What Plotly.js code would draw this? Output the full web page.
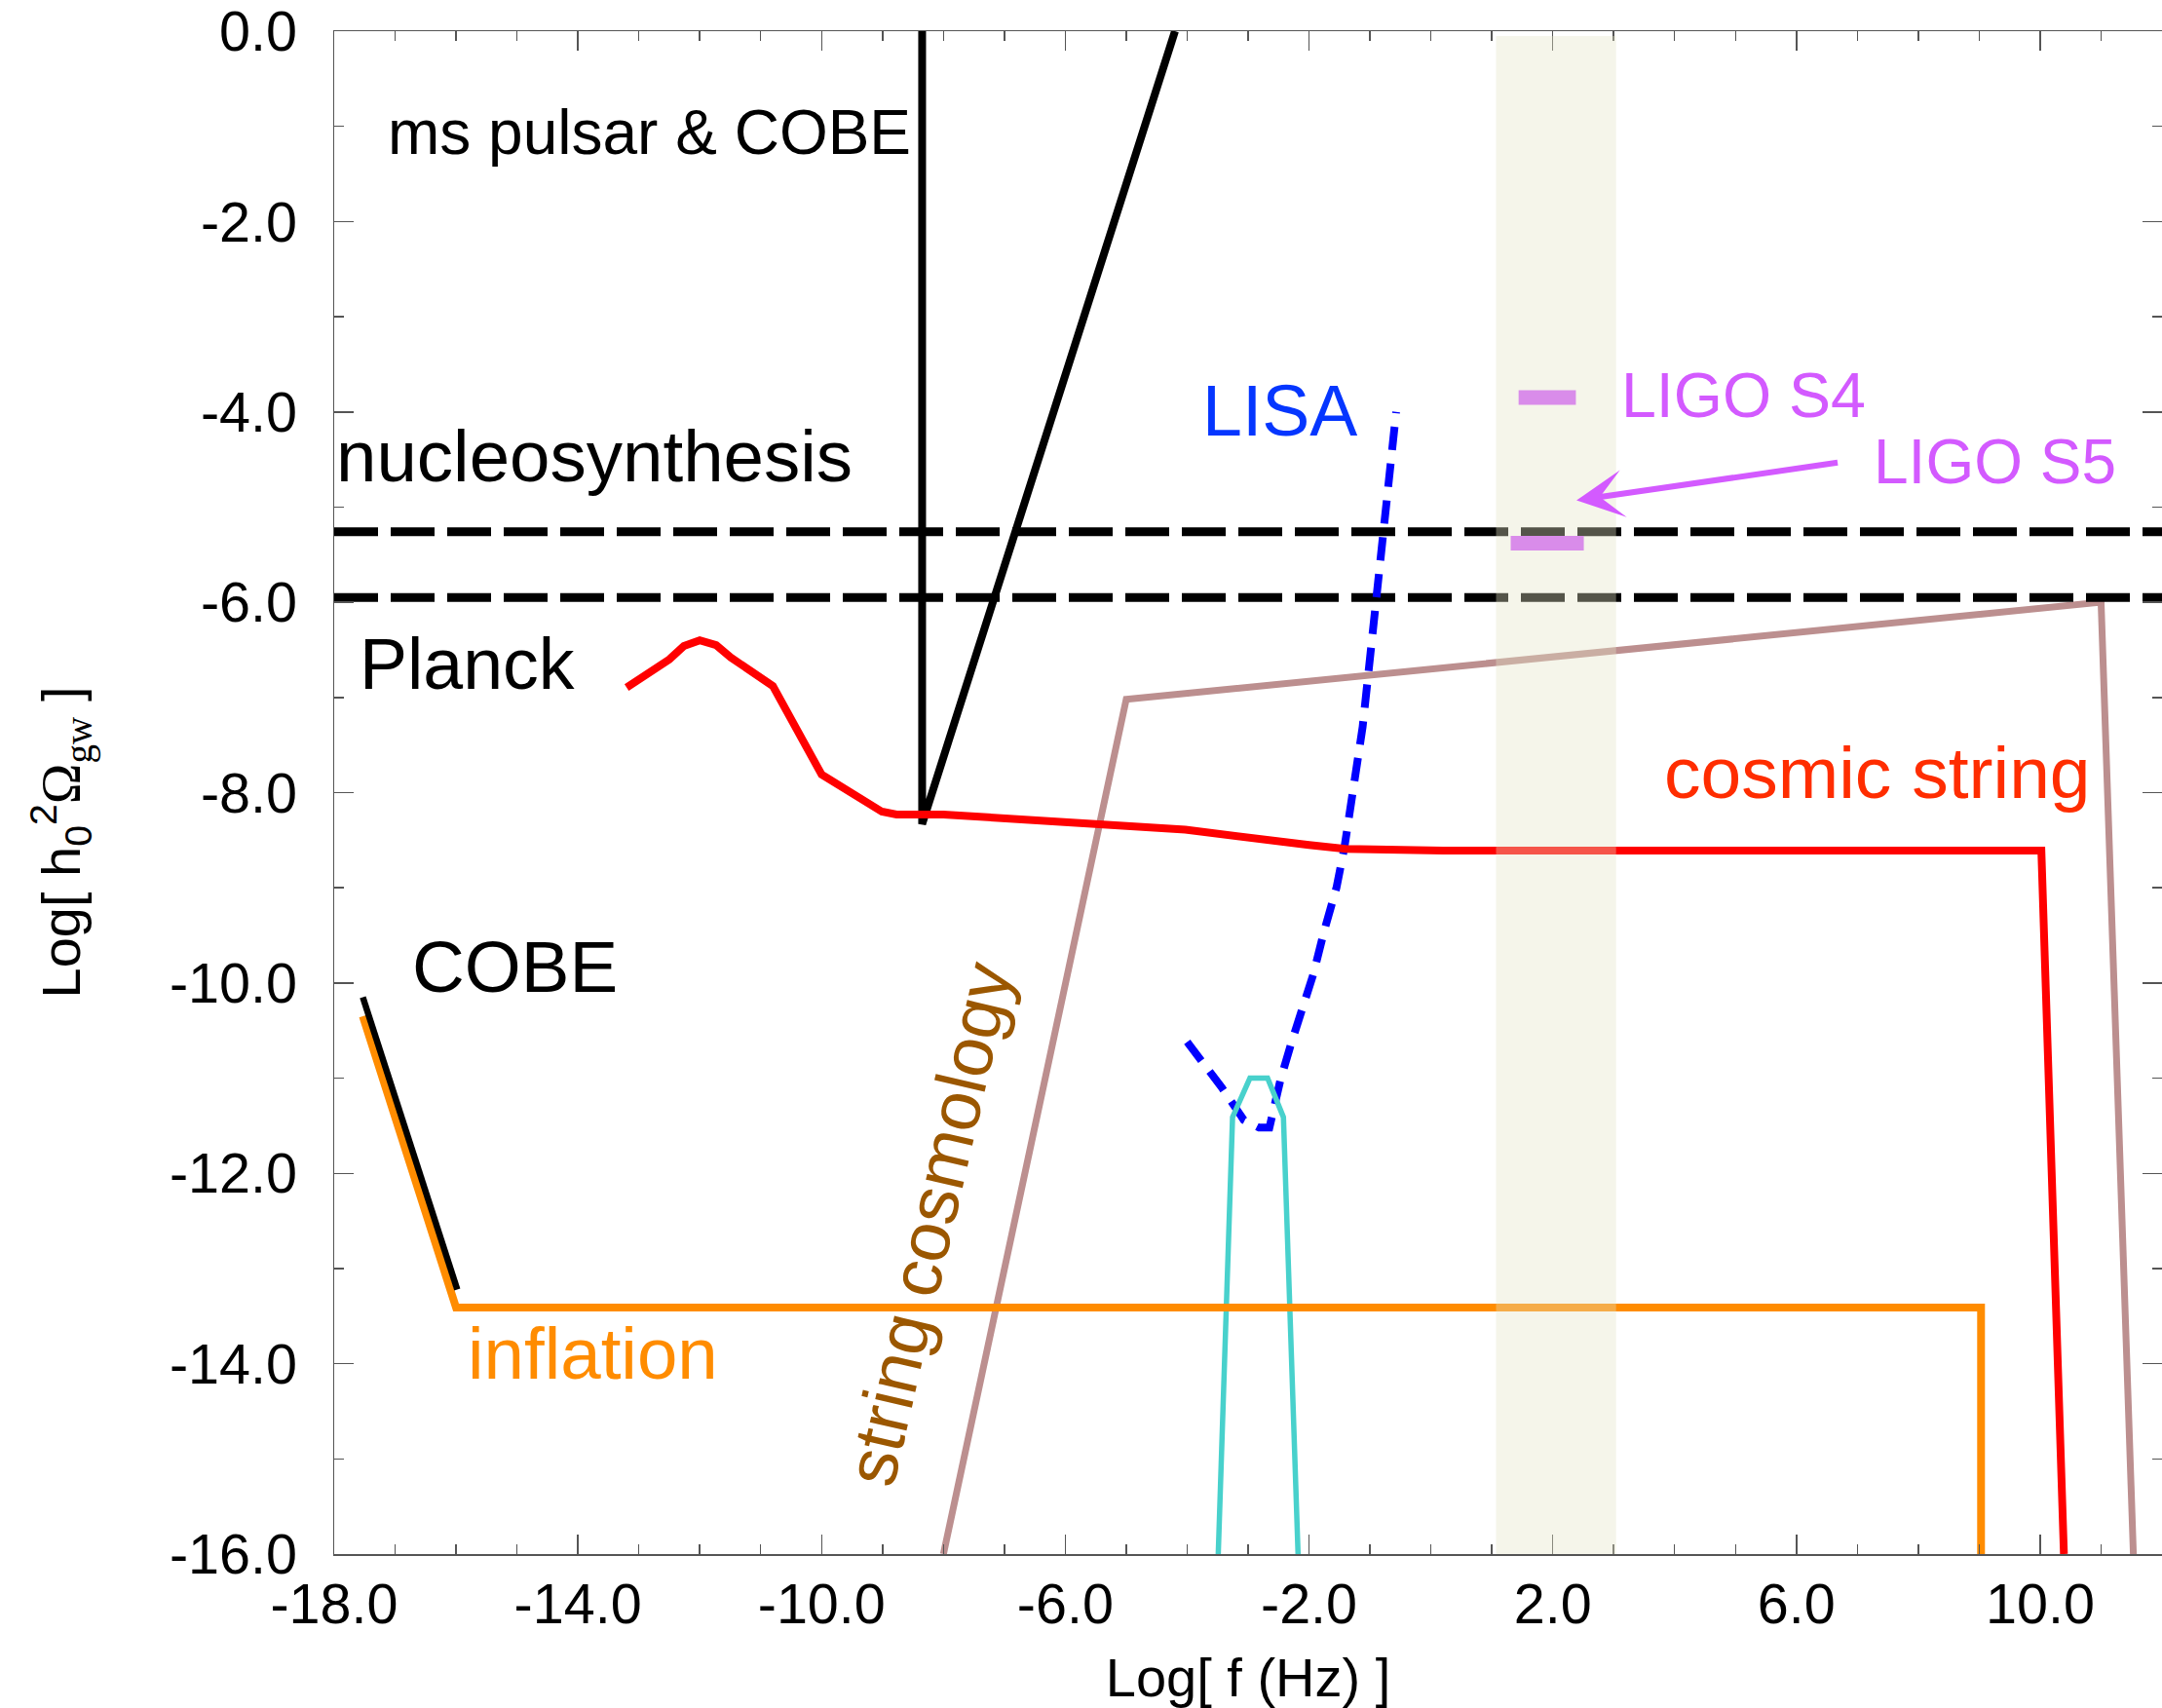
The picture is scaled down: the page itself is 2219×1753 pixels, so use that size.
<!DOCTYPE html>
<html>
<head>
<meta charset="utf-8">
<script src="https://cdn.plot.ly/plotly-3.0.1.min.js"></script>
<style>
  html, body { margin: 0; padding: 0; background: #ffffff; overflow: hidden; }
  #chart { width: 2219px; height: 1753px; }
</style>
</head>
<body>
<div id="chart"></div>
<script>
// Gravitational-wave background: log10 of h0^2 Omega_gw against log10 frequency.

// Axis ticks
const xTickVals = [-18, -14, -10, -6, -2, 2, 6, 10];
const xTickText = ["-18.0", "-14.0", "-10.0", "-6.0", "-2.0", "2.0", "6.0", "10.0"];
const yTickVals = [0, -2, -4, -6, -8, -10, -12, -14, -16];
const yTickText = ["0.0", "-2.0", "-4.0", "-6.0", "-8.0", "-10.0", "-12.0", "-14.0", "-16.0"];
const fullSpanX = [-18, 12];

// Inflation spectrum
const inflationX = [-17.53, -16.0, 9.03, 9.03];
const inflationY = [-10.35, -13.41, -13.41, -16.0];

// COBE bound
const cobeX = [-17.53, -15.98];
const cobeY = [-10.15, -13.22];

// ms pulsar & COBE bound
const pulsarX = [-8.35, -8.35, -4.2];
const pulsarY = [0.0, -8.33, 0.0];

// Planck bound continuing into the cosmic string spectrum
const redX = [-13.2, -12.93, -12.5, -12.26, -12.0, -11.73, -11.49, -10.8, -10.0, -9.01, -8.77, -8.0, -5.1, -4.03, -2.0, -1.4, 0.2, 10.02, 10.39];
const redY = [-6.895, -6.785, -6.6, -6.46, -6.4, -6.45, -6.58, -6.88, -7.81, -8.2, -8.23, -8.23, -8.35, -8.39, -8.55, -8.59, -8.61, -8.61, -16.0];

// String cosmology spectrum
const stringCosmoX = [-8.0, -5.0, 11.0, 11.53];
const stringCosmoY = [-16.0, -7.02, -6.0, -16.0];

// Nucleosynthesis bounds
const nucleoLevels = [-5.26, -5.95];

// LISA sensitivity
const lisaX = [-4.0, -3.43, -3.07, -2.82, -2.65, -2.47, -2.3, -2.11, -1.93, -1.75, -1.55, -1.42, -1.26, -1.12, -0.99, -0.78, -0.57];
const lisaY = [-10.62, -11.1, -11.44, -11.52, -11.52, -11.02, -10.65, -10.28, -9.91, -9.45, -9.0, -8.58, -7.86, -7.31, -6.53, -5.2, -4.0];

// Space interferometer notch
const notchX = [-3.49, -3.255, -2.97, -2.68, -2.42, -2.18];
const notchY = [-16.0, -11.41, -11.0, -11.0, -11.41, -16.0];

// LIGO upper limits
const ligoS4X = [1.44, 2.38];
const ligoS4Y = [-3.85, -3.85];
const ligoS5X = [1.31, 2.51];
const ligoS5Y = [-5.38, -5.38];
const ligoBandX = [1.07, 3.04];
const arrowTail = [6.70, -4.53];
const arrowHead = [2.39, -4.93];

const FONT = "Liberation Sans, Arial, Helvetica, sans-serif";
const AXIS_GREY = "#555555";
const LIGO_VIOLET = "#D35AFF";

function lineTrace(x, y, color, width, dash) {
  return {
    x: x, y: y, type: "scatter", mode: "lines", hoverinfo: "skip",
    line: { color: color, width: width, dash: dash || "solid" }
  };
}

const traces = [
  lineTrace(stringCosmoX, stringCosmoY, "#BC8F8F", 7),
  lineTrace(fullSpanX, [nucleoLevels[0], nucleoLevels[0]], "#000000", 9, "45px,13px"),
  lineTrace(fullSpanX, [nucleoLevels[1], nucleoLevels[1]], "#000000", 9, "45px,13px"),
  lineTrace(lisaX, lisaY, "#0000FF", 8, "24px,14px"),
  lineTrace(notchX, notchY, "#48D1CC", 5.5),
  lineTrace(inflationX, inflationY, "#FF8C00", 8),
  lineTrace(cobeX, cobeY, "#000000", 6.5),
  lineTrace(pulsarX, pulsarY, "#000000", 8),
  lineTrace(redX, redY, "#FF0000", 8),
  lineTrace(ligoS4X, ligoS4Y, LIGO_VIOLET, 15),
  lineTrace(ligoS5X, ligoS5Y, LIGO_VIOLET, 15)
];

function label(text, x, y, size, color, extra) {
  return Object.assign({
    text: text, x: x, y: y, xref: "x", yref: "y",
    xanchor: "left", yanchor: "middle", showarrow: false,
    font: { family: FONT, size: size, color: color }
  }, extra || {});
}

const annotations = [
  label("ms pulsar &amp; COBE", -17.16, -1.06, 64, "#000000"),
  label("nucleosynthesis", -18.0, -4.47, 74.5, "#000000"),
  label("Planck", -17.62, -6.65, 73.5, "#000000"),
  label("COBE", -16.76, -9.83, 74.5, "#000000"),
  label("inflation", -15.84, -13.9, 74.5, "#FF8C00"),
  label("LISA", -3.79, -3.99, 73.5, "#0536FF"),
  label("LIGO S4", 3.1, -3.83, 64.5, LIGO_VIOLET),
  label("LIGO S5", 7.23, -4.52, 64, LIGO_VIOLET),
  label("cosmic string", 3.8, -7.79, 75, "#FF2D00"),
  label("string cosmology", -8.25, -12.53, 73, "#9B5700", { xanchor: "center", textangle: -77 }),
  {
    x: arrowHead[0], y: arrowHead[1], ax: arrowTail[0], ay: arrowTail[1],
    xref: "x", yref: "y", axref: "x", ayref: "y",
    text: "", showarrow: true, arrowhead: 3, arrowsize: 1.35, arrowwidth: 6,
    arrowcolor: LIGO_VIOLET, standoff: 0
  },
  {
    text: 'Log[ h<sub>0</sub><sup>2</sup><span style="font-family:Liberation Serif">Ω<sub>gw</sub></span> ]',
    xref: "paper", yref: "paper", x: -0.149, y: 0.4677,
    xanchor: "center", yanchor: "middle", textangle: -90, showarrow: false,
    font: { family: FONT, size: 56, color: "#000000" }
  }
];

const commonAxis = {
  showline: true, mirror: "ticks", linecolor: AXIS_GREY, linewidth: 1.5,
  ticks: "inside", ticklen: 20, tickwidth: 1.5, tickcolor: AXIS_GREY,
  tickmode: "array", showgrid: false, zeroline: false, fixedrange: true,
  tickfont: { family: FONT, size: 57.5, color: "#000000" }
};

const layout = {
  width: 2219, height: 1753,
  margin: { l: 343, r: 0, t: 32, b: 158 },
  paper_bgcolor: "#ffffff", plot_bgcolor: "#ffffff",
  showlegend: false, hovermode: false,
  xaxis: Object.assign({}, commonAxis, {
    range: fullSpanX, tickvals: xTickVals, ticktext: xTickText,
    ticklabelstandoff: 0,
    minor: { tickmode: "linear", tick0: -18, dtick: 1, ticks: "inside", ticklen: 10, tickwidth: 1.5, tickcolor: AXIS_GREY },
    title: { text: "Log[ f (Hz) ]", font: { family: FONT, size: 56, color: "#000000" }, standoff: 32 }
  }),
  yaxis: Object.assign({}, commonAxis, {
    range: [-16, 0], tickvals: yTickVals, ticktext: yTickText,
    ticklabelstandoff: 25,
    minor: { tickmode: "linear", tick0: 0, dtick: 1, ticks: "inside", ticklen: 10, tickwidth: 1.5, tickcolor: AXIS_GREY }
  }),
  shapes: [{
    type: "rect", xref: "x", yref: "y",
    x0: ligoBandX[0], x1: ligoBandX[1], y0: -16, y1: -0.05,
    fillcolor: "rgb(228,228,198)", opacity: 0.37, line: { width: 0 }, layer: "above"
  }],
  annotations: annotations
};

Plotly.newPlot("chart", traces, layout, { staticPlot: true, displayModeBar: false });
</script>
</body>
</html>
